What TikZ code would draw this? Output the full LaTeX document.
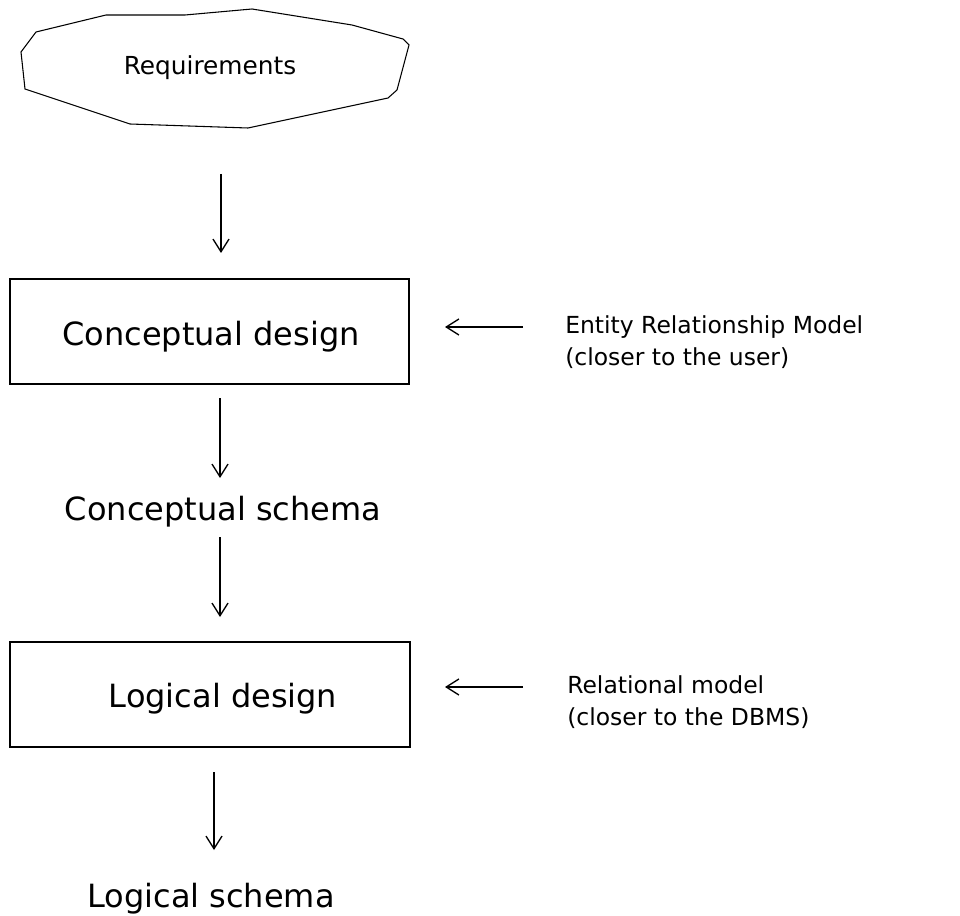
\documentclass[tikz,border=0pt]{standalone}
\usepackage{fontspec}
\setmainfont{DejaVu Sans}
\usetikzlibrary{arrows.meta}

\tikzset{
  flow/.style={line width=1pt, -{Straight Barb[length=9.5pt,width=12pt,line width=1pt]}},
  stagebox/.style={draw, line width=1.6pt, minimum width=#1, minimum height=78.75pt, inner sep=0pt},
  bigtext/.style={font=\fontsize{24}{28}\selectfont, inner sep=0pt},
  sidetext/.style={font=\fontsize{17.6}{24}\selectfont, inner sep=0pt, anchor=base west},
  reqtext/.style={font=\fontsize{18.6}{22}\selectfont, inner sep=0pt, anchor=base}
}

\begin{document}
\begin{tikzpicture}[x=0.75pt, y=-0.75pt]
  \useasboundingbox (0,0) rectangle (960,916);

  % irregular outline around the requirements
  \draw[line width=0.8pt] (36,32) -- (106,15) -- (185,15) -- (252,9) -- (352,25)
    -- (403,39) -- (409,45) -- (397,90) -- (388,98) -- (248,128) -- (130,124)
    -- (25,89) -- (21,52) -- cycle;
  \node[reqtext] (req) at (210,75) {Requirements};

  % design stages
  \node[stagebox=299.25pt] (cbox) at (209.5,331.5) {};
  \node[bigtext, anchor=base] (cdesign) at (211,345) {Conceptual design};
  \node[stagebox=300pt] (lbox) at (210,694.5) {};
  \node[bigtext, anchor=base] (ldesign) at (223,707) {Logical design};

  % intermediate products
  \node[bigtext, anchor=base] (cschema) at (223,520) {Conceptual schema};
  \node[bigtext, anchor=base] (lschema) at (211,907) {Logical schema};

  % data models feeding each stage
  \node[sidetext] (er1) at (565,333) {Entity Relationship Model};
  \node[sidetext] (er2) at (565,365) {(closer to the user)};
  \node[sidetext] (rel1) at (567,693) {Relational model};
  \node[sidetext] (rel2) at (567,725) {(closer to the DBMS)};

  % arrow end points
  \coordinate (a1s) at (221,174); \coordinate (a1e) at (221,253);
  \coordinate (a2s) at (220,398); \coordinate (a2e) at (220,478);
  \coordinate (a3s) at (220,537); \coordinate (a3e) at (220,617);
  \coordinate (a4s) at (214,772); \coordinate (a4e) at (214,850);
  \coordinate (ers) at (523,327); \coordinate (ere) at (445,327);
  \coordinate (rels) at (523,687); \coordinate (rele) at (445,687);

  \draw[flow] (a1s) -- (a1e);
  \draw[flow] (a2s) -- (a2e);
  \draw[flow] (a3s) -- (a3e);
  \draw[flow] (a4s) -- (a4e);
  \draw[flow] (ers) -- (ere);
  \draw[flow] (rels) -- (rele);
\end{tikzpicture}
\end{document}
